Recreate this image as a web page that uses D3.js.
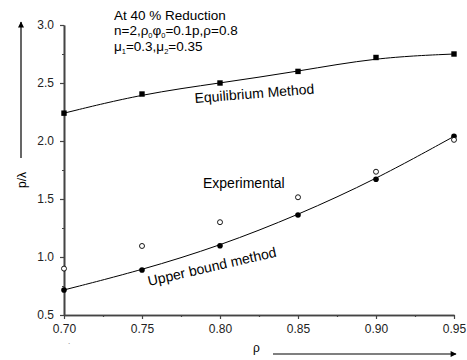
<!DOCTYPE html>
<html><head><meta charset="utf-8">
<script src="https://cdn.jsdelivr.net/npm/d3@7"></script>
<style>
body{margin:0;background:#fff;}
text{font-family:"Liberation Sans",Arial,sans-serif;}
</style></head>
<body><svg id="c" width="467" height="360"></svg>
<script>
const rho = [0.70, 0.75, 0.80, 0.85, 0.90, 0.95];
const equilibrium = [2.24, 2.405, 2.50, 2.60, 2.72, 2.75];
const upperBound = [0.716, 0.888, 1.097, 1.362, 1.67, 2.04];
const experimental = [0.90, 1.095, 1.30, 1.515, 1.735, 2.01];
const xTicks = [0.70, 0.75, 0.80, 0.85, 0.90, 0.95];
const xMinor = [0.725, 0.775, 0.825, 0.875, 0.925];
const yTicks = [0.5, 1.0, 1.5, 2.0, 2.5, 3.0];
const yMinor = [0.75, 1.25, 1.75, 2.25, 2.75];

const svg = d3.select("#c");
const x = d3.scaleLinear().domain([0.70, 0.95]).range([64, 454]);
const y = d3.scaleLinear().domain([0.5, 3.0]).range([315, 25]);
const axisColor = "#444";

// axes
const gx = svg.append("g").attr("transform", "translate(0,315)")
  .call(d3.axisBottom(x).tickValues(xTicks).tickFormat(d3.format(".2f")).tickSize(4).tickSizeOuter(0).tickPadding(5));
const gxm = svg.append("g").attr("transform", "translate(0,315)")
  .call(d3.axisBottom(x).tickValues(xMinor).tickFormat("").tickSize(2).tickSizeOuter(0));
const gy = svg.append("g").attr("transform", "translate(64,0)")
  .call(d3.axisLeft(y).tickValues(yTicks).tickFormat(d3.format(".1f")).tickSize(4).tickSizeOuter(0).tickPadding(6));
const gym = svg.append("g").attr("transform", "translate(64,0)")
  .call(d3.axisLeft(y).tickValues(yMinor).tickFormat("").tickSize(2).tickSizeOuter(0));
[gx, gxm, gy, gym].forEach(g => {
  g.select(".domain").attr("stroke", axisColor).attr("stroke-width", 1.6);
  g.selectAll(".tick line").attr("stroke", axisColor).attr("stroke-width", 1.2);
  g.selectAll(".tick text").attr("fill", "#222").style("font-size", "12px")
   .style("font-family", "'Liberation Sans',Arial,sans-serif");
});

// curves
const line = (vals) => d3.line().x((d, i) => x(rho[i])).y(d => y(d)).curve(d3.curveBasis)(vals);
svg.append("path").attr("d", line(equilibrium)).attr("fill", "none").attr("stroke", "#000").attr("stroke-width", 1);
svg.append("path").attr("d", line(upperBound)).attr("fill", "none").attr("stroke", "#000").attr("stroke-width", 1);

// markers
svg.selectAll(".sq").data(equilibrium).enter().append("rect")
  .attr("x", (d, i) => x(rho[i]) - 2.7).attr("y", d => y(d) - 2.7)
  .attr("width", 5.4).attr("height", 5.4).attr("fill", "#000");
svg.selectAll(".fc").data(upperBound).enter().append("circle")
  .attr("cx", (d, i) => x(rho[i])).attr("cy", d => y(d)).attr("r", 2.8).attr("fill", "#000");
svg.selectAll(".oc").data(experimental).enter().append("circle")
  .attr("cx", (d, i) => x(rho[i])).attr("cy", d => y(d)).attr("r", 2.5)
  .attr("fill", "#fff").attr("stroke", "#000").attr("stroke-width", 0.9);

// labels
const fs = "14px";
svg.append("text").attr("transform", "translate(195,103) rotate(-4.5)").style("font-size", fs).text("Equilibrium Method");
svg.append("text").attr("x", 203).attr("y", 188).style("font-size", fs).text("Experimental");
svg.append("text").attr("transform", "translate(149,286) rotate(-13)").style("font-size", fs).text("Upper bound method");

// annotation
const ann = svg.append("g").style("font-size", "13.5px");
ann.append("text").attr("x", 114).attr("y", 20).text("At 40 % Reduction");
const t2 = ann.append("text").attr("x", 114).attr("y", 35);
t2.append("tspan").text("n=2,\u03c1");
t2.append("tspan").attr("dy", 2.5).style("font-size", "7.5px").text("0");
t2.append("tspan").attr("dy", -2.5).text("\u03c6");
t2.append("tspan").attr("dy", 2.5).style("font-size", "7.5px").text("0");
t2.append("tspan").attr("dy", -2.5).text("=0.1p,\u03c1=0.8");
const t3 = ann.append("text").attr("x", 114).attr("y", 51);
t3.append("tspan").text("\u03bc");
t3.append("tspan").attr("dy", 2.5).style("font-size", "7.5px").text("1");
t3.append("tspan").attr("dy", -2.5).text("=0.3,\u03bc");
t3.append("tspan").attr("dy", 2.5).style("font-size", "7.5px").text("2");
t3.append("tspan").attr("dy", -2.5).text("=0.35");

// axis titles with arrows
svg.append("defs").append("marker").attr("id", "arr").attr("viewBox", "0 0 10 10")
  .attr("refX", 9).attr("refY", 5).attr("markerWidth", 7).attr("markerHeight", 5)
  .attr("orient", "auto").append("path").attr("d", "M0,0L10,5L0,10Z").attr("fill", "#000");
svg.append("line").attr("x1", 21).attr("y1", 158).attr("x2", 21).attr("y2", 22)
  .attr("stroke", "#000").attr("stroke-width", 1.2).attr("marker-end", "url(#arr)");
svg.append("text").attr("transform", "translate(26,180) rotate(-90)").attr("text-anchor", "middle")
  .style("font-size", "12px").text("p/\u03bb");
svg.append("text").attr("x", 253).attr("y", 352).style("font-size", "12px").text("\u03c1");
svg.append("line").attr("x1", 273).attr("y1", 354).attr("x2", 456).attr("y2", 354)
  .attr("stroke", "#000").attr("stroke-width", 1.2).attr("marker-end", "url(#arr)");
svg.append("text").attr("x", 68).attr("y", 348).style("font-size", "7px").attr("fill", "#444").text("`");
</script></body></html>
